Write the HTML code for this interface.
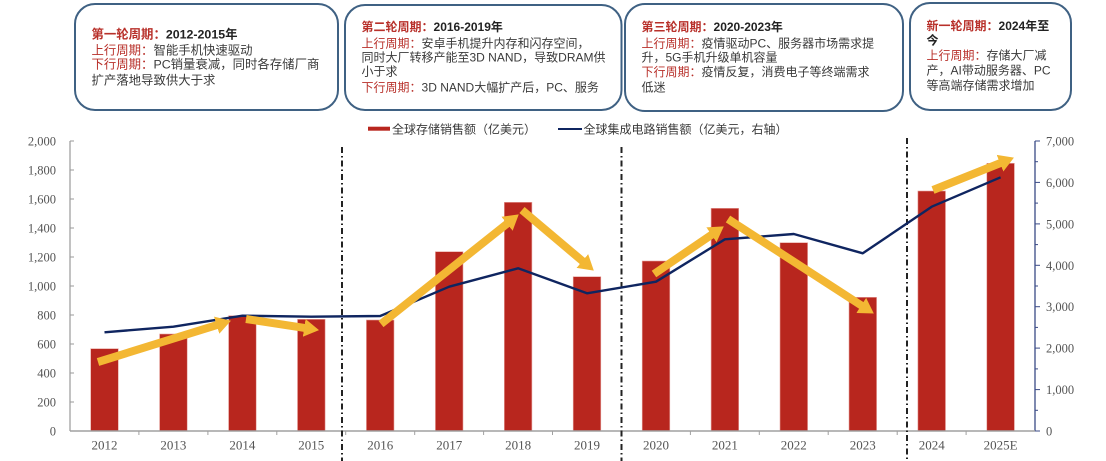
<!DOCTYPE html>
<html><head><meta charset="utf-8"><style>
html,body{margin:0;padding:0;background:#fff;}
svg{display:block;}
.t{font-family:"Liberation Sans","Noto Sans CJK SC",sans-serif;font-size:12px;fill:#3a3a3a;}
.t1{font-size:12.4px;}
.r{fill:#b8302a;}
.b{font-weight:bold;}
.k{fill:#222;}
.ax{font-family:"Liberation Serif","Noto Serif CJK SC",serif;font-size:12.5px;fill:#555;}
</style></head><body>
<svg width="1106" height="461" viewBox="0 0 1106 461" xmlns="http://www.w3.org/2000/svg">
<defs>
<marker id="ah" markerUnits="userSpaceOnUse" markerWidth="16" markerHeight="20" viewBox="0 -10 16 20" refX="7" refY="0" orient="auto">
<path d="M0,-9 L15,0 L0,9 z" fill="#f3b733"/>
</marker>
</defs>

<!-- Boxes -->
<g fill="none" stroke="#3f6183" stroke-width="2">
<rect x="75" y="4" width="263" height="106" rx="20"/>
<rect x="345" y="5" width="276.5" height="105" rx="20"/>
<rect x="625" y="4" width="278" height="107" rx="20"/>
<rect x="910" y="3" width="161" height="107" rx="20"/>
</g>

<!-- Box 1 text -->
<text class="t t1" x="91.5" y="38.5"><tspan class="r b">第一轮周期：</tspan><tspan class="k b">2012-2015年</tspan></text>
<text class="t t1" x="91.5" y="54.5"><tspan class="r">上行周期：</tspan>智能手机快速驱动</text>
<text class="t t1" x="91.5" y="68.5"><tspan class="r">下行周期：</tspan>PC销量衰减，同时各存储厂商</text>
<text class="t t1" x="91.5" y="84.5">扩产落地导致供大于求</text>

<!-- Box 2 text -->
<text class="t" x="361.5" y="31"><tspan class="r b">第二轮周期：</tspan><tspan class="k b">2016-2019年</tspan></text>
<text class="t" x="361.5" y="47.5"><tspan class="r">上行周期：</tspan>安卓手机提升内存和闪存空间，</text>
<text class="t" x="361.5" y="61.5">同时大厂转移产能至3D NAND，导致DRAM供</text>
<text class="t" x="361.5" y="75.5">小于求</text>
<text class="t" x="361.5" y="91.5"><tspan class="r">下行周期：</tspan>3D NAND大幅扩产后，PC、服务</text>

<!-- Box 3 text -->
<text class="t" x="641.5" y="31"><tspan class="r b">第三轮周期：</tspan><tspan class="k b">2020-2023年</tspan></text>
<text class="t" x="641.5" y="47.5"><tspan class="r">上行周期：</tspan>疫情驱动PC、服务器市场需求提</text>
<text class="t" x="641.5" y="61.5">升，5G手机升级单机容量</text>
<text class="t" x="641.5" y="76"><tspan class="r">下行周期：</tspan>疫情反复，消费电子等终端需求</text>
<text class="t" x="641.5" y="91.5">低迷</text>

<!-- Box 4 text -->
<text class="t" x="926.5" y="30"><tspan class="r b">新一轮周期：</tspan><tspan class="k b">2024年至</tspan></text>
<text class="t k b" x="926.5" y="44.5">今</text>
<text class="t" x="926.5" y="59.5"><tspan class="r">上行周期：</tspan>存储大厂减</text>
<text class="t" x="926.5" y="74.5">产，AI带动服务器、PC</text>
<text class="t" x="926.5" y="89.5">等高端存储需求增加</text>

<!-- Legend -->
<rect x="368" y="126.7" width="22" height="4" fill="#b8261e"/>
<text class="t" x="392" y="133.5">全球存储销售额（亿美元）</text>
<line x1="558" y1="129" x2="582" y2="129" stroke="#0f2560" stroke-width="2"/>
<text class="t" x="583.5" y="133.5">全球集成电路销售额（亿美元，右轴）</text>

<!-- Left axis -->
<line x1="70" y1="141" x2="70" y2="431" stroke="#9a9a9a" stroke-width="1.2"/>
<g stroke="#9a9a9a" stroke-width="1">
<line x1="70" y1="141" x2="74" y2="141"/><line x1="70" y1="170" x2="74" y2="170"/>
<line x1="70" y1="199" x2="74" y2="199"/><line x1="70" y1="228" x2="74" y2="228"/>
<line x1="70" y1="257" x2="74" y2="257"/><line x1="70" y1="286" x2="74" y2="286"/>
<line x1="70" y1="315" x2="74" y2="315"/><line x1="70" y1="344" x2="74" y2="344"/>
<line x1="70" y1="373" x2="74" y2="373"/><line x1="70" y1="402" x2="74" y2="402"/>
</g>
<g class="ax" text-anchor="end">
<text x="56" y="145.5">2,000</text><text x="56" y="174.5">1,800</text>
<text x="56" y="203.5">1,600</text><text x="56" y="232.5">1,400</text>
<text x="56" y="261.5">1,200</text><text x="56" y="290.5">1,000</text>
<text x="56" y="319.5">800</text><text x="56" y="348.5">600</text>
<text x="56" y="377.5">400</text><text x="56" y="406.5">200</text>
<text x="56" y="435.5">0</text>
</g>

<!-- Right axis -->
<line x1="1035" y1="141" x2="1035" y2="431" stroke="#3a4a85" stroke-width="1.3"/>
<g stroke="#3a4a85" stroke-width="1">
<line x1="1035" y1="141" x2="1040" y2="141"/><line x1="1035" y1="161.7" x2="1038" y2="161.7"/>
<line x1="1035" y1="182.4" x2="1040" y2="182.4"/><line x1="1035" y1="203.1" x2="1038" y2="203.1"/>
<line x1="1035" y1="223.9" x2="1040" y2="223.9"/><line x1="1035" y1="244.6" x2="1038" y2="244.6"/>
<line x1="1035" y1="265.3" x2="1040" y2="265.3"/><line x1="1035" y1="286" x2="1038" y2="286"/>
<line x1="1035" y1="306.7" x2="1040" y2="306.7"/><line x1="1035" y1="327.4" x2="1038" y2="327.4"/>
<line x1="1035" y1="348.1" x2="1040" y2="348.1"/><line x1="1035" y1="368.9" x2="1038" y2="368.9"/>
<line x1="1035" y1="389.6" x2="1040" y2="389.6"/><line x1="1035" y1="410.3" x2="1038" y2="410.3"/>
<line x1="1035" y1="431" x2="1040" y2="431"/>
</g>
<g class="ax">
<text x="1046" y="145.5">7,000</text><text x="1046" y="186.9">6,000</text>
<text x="1046" y="228.4">5,000</text><text x="1046" y="269.8">4,000</text>
<text x="1046" y="311.2">3,000</text><text x="1046" y="352.6">2,000</text>
<text x="1046" y="394.1">1,000</text><text x="1046" y="435.5">0</text>
</g>

<!-- Bars -->
<g fill="#b8261e" stroke="#e6a39e" stroke-width="0.6">
<rect x="90.7" y="348.7" width="27.6" height="82.3"/>
<rect x="159.6" y="334" width="27.6" height="97"/>
<rect x="228.6" y="315.7" width="27.6" height="115.3"/>
<rect x="297.5" y="319.3" width="27.6" height="111.7"/>
<rect x="366.4" y="320" width="27.6" height="111"/>
<rect x="435.4" y="251.7" width="27.6" height="179.3"/>
<rect x="504.3" y="202.3" width="27.6" height="228.7"/>
<rect x="573.2" y="276.7" width="27.6" height="154.3"/>
<rect x="642.2" y="261" width="27.6" height="170"/>
<rect x="711.1" y="208.3" width="27.6" height="222.7"/>
<rect x="780" y="242.7" width="27.6" height="188.3"/>
<rect x="849" y="297.3" width="27.6" height="133.7"/>
<rect x="917.9" y="191" width="27.6" height="240"/>
<rect x="986.8" y="163.3" width="27.6" height="267.7"/>
</g>

<!-- X axis -->
<line x1="70" y1="431" x2="1035" y2="431" stroke="#a0a0a0" stroke-width="1.5"/>
<g stroke="#a0a0a0" stroke-width="1">
<line x1="138.9" y1="431" x2="138.9" y2="435"/><line x1="207.9" y1="431" x2="207.9" y2="435"/>
<line x1="276.8" y1="431" x2="276.8" y2="435"/><line x1="345.7" y1="431" x2="345.7" y2="435"/>
<line x1="414.7" y1="431" x2="414.7" y2="435"/><line x1="483.6" y1="431" x2="483.6" y2="435"/>
<line x1="552.5" y1="431" x2="552.5" y2="435"/><line x1="621.4" y1="431" x2="621.4" y2="435"/>
<line x1="690.4" y1="431" x2="690.4" y2="435"/><line x1="759.3" y1="431" x2="759.3" y2="435"/>
<line x1="828.2" y1="431" x2="828.2" y2="435"/><line x1="897.2" y1="431" x2="897.2" y2="435"/>
<line x1="966.1" y1="431" x2="966.1" y2="435"/>
</g>
<g class="ax" text-anchor="middle" style="font-size:13px">
<text x="104.5" y="449.5">2012</text><text x="173.4" y="449.5">2013</text>
<text x="242.4" y="449.5">2014</text><text x="311.3" y="449.5">2015</text>
<text x="380.2" y="449.5">2016</text><text x="449.2" y="449.5">2017</text>
<text x="518.1" y="449.5">2018</text><text x="587" y="449.5">2019</text>
<text x="656" y="449.5">2020</text><text x="724.9" y="449.5">2021</text>
<text x="793.8" y="449.5">2022</text><text x="862.8" y="449.5">2023</text>
<text x="931.7" y="449.5">2024</text><text x="1000.6" y="449.5">2025E</text>
</g>

<!-- Dividers -->
<g stroke="#222" stroke-width="2" stroke-dasharray="6 3 1.5 3">
<line x1="342" y1="147" x2="342" y2="461"/>
<line x1="621.5" y1="147" x2="621.5" y2="461"/>
<line x1="907" y1="138" x2="907" y2="461"/>
</g>

<!-- IC line -->
<polyline fill="none" stroke="#0f2560" stroke-width="2.4" stroke-linejoin="round"
points="104.5,332.3 173.4,326.7 242.4,315.7 311.3,316.7 380.2,316 449.2,286.7 518.1,268.3 587,293.3 656,281.7 724.9,239.3 793.8,234 862.8,253.3 931.7,206.7 1000.6,177.3"/>

<!-- Arrows -->
<g stroke="#f3b733" stroke-width="8" fill="none" marker-end="url(#ah)">
<line x1="98" y1="362" x2="223.3" y2="323.1"/>
<line x1="246" y1="319" x2="311.1" y2="328.9"/>
<line x1="381" y1="324" x2="512.5" y2="219.4"/>
<line x1="522" y1="210" x2="587.7" y2="265.5"/>
<line x1="654" y1="274" x2="717.2" y2="230.9"/>
<line x1="728" y1="219" x2="867.1" y2="309.2"/>
<line x1="933" y1="190" x2="1006.5" y2="160.6"/>
</g>
</svg>
</body></html>
